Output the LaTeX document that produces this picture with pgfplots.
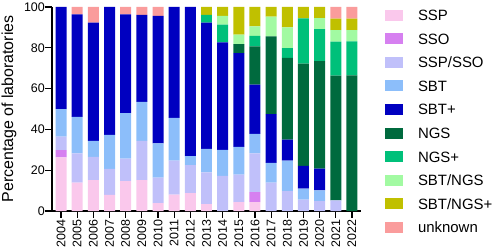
\documentclass[border=0pt]{standalone}
\usepackage{fontspec}
\setmainfont{Liberation Sans}
\usepackage{pgfplots}
\usepackage{pgfplotstable}
\pgfplotsset{compat=1.18}
\definecolor{cSSP}{RGB}{250,200,236}
\definecolor{cSSO}{RGB}{214,128,240}
\definecolor{cSSPSSO}{RGB}{192,192,250}
\definecolor{cSBT}{RGB}{140,190,250}
\definecolor{cSBTp}{RGB}{0,0,192}
\definecolor{cNGS}{RGB}{0,106,62}
\definecolor{cNGSp}{RGB}{0,192,122}
\definecolor{cSBTNGS}{RGB}{162,250,162}
\definecolor{cSBTNGSp}{RGB}{192,192,0}
\definecolor{cunk}{RGB}{250,156,156}
\pgfplotstableread{
year SSP SSO SSPSSO SBT SBTp NGS NGSp SBTNGS SBTNGSp unk
2004 26.3 3.5 6.7 13.4 50.1 0 0 0 0 0
2005 13.9 0 14.4 17.9 50.2 0 0 0 0 3.6
2006 15.1 0 11.4 7.9 57.9 0 0 0 0 7.7
2007 7.9 0 12.7 16.7 62.7 0 0 0 0 0
2008 14.6 0 11.1 22.3 48.4 0 0 0 0 3.6
2009 15.1 0 19.3 19.1 42.7 0 0 0 0 3.8
2010 3.9 0 12.5 16.7 62.6 0 0 0 0 4.3
2011 8.0 0 16.7 21.0 54.3 0 0 0 0 0
2012 8.8 0 13.7 4.4 73.1 0 0 0 0 0
2013 3.4 0 15.5 11.5 61.9 0 3.9 0 3.8 0
2014 0 0 17.2 12.8 52.7 0 8.6 4.4 4.3 0
2015 4.3 0 13.5 13.6 46.0 4.4 0 4.6 13.6 0
2016 4.4 4.9 19.0 9.5 24.1 18.8 5.1 4.7 9.5 0
2017 0 0 13.9 9.7 23.9 38.1 0 9.7 4.7 0
2018 0 0 9.7 15.0 10.3 40.0 4.9 10.1 10.0 0
2019 0 0 5.6 5.4 11.1 50.1 22.2 0 5.6 0
2020 0 0 4.9 5.2 10.7 52.7 15.7 5.4 5.4 0
2021 0 0 5.2 0 0 61.2 16.6 5.7 5.6 5.7
2022 0 0 0 0 0 66.5 16.6 5.6 5.6 5.7
}\data
\pgfplotsset{
  sq/.style={draw=none, fill=#1,
    legend image code/.code={\fill[#1] (0bp,-5.5bp) rectangle (18bp,5.5bp); \path (33bp,0bp);}},
}
\begin{document}
\begin{tikzpicture}
\begin{axis}[
  scale only axis, width=309bp, height=204bp,
  ybar stacked, bar width=0.68,
  xmin=-0.56, xmax=18.56, ymin=0, ymax=100,
  axis x line=bottom, axis y line=left,
  axis line style={line width=1.4bp, -},
  tick align=outside, major tick length=6.5bp,
  tick style={black, line width=1.2bp},
  xtick={0,...,18},
  xticklabels={2004,2005,2006,2007,2008,2009,2010,2011,2012,2013,2014,2015,2016,2017,2018,2019,2020,2021,2022},
  ytick={0,20,40,60,80,100},
  /pgf/number format/assume math mode=true,
  x tick label style={rotate=90, anchor=east, inner sep=2bp, font=\fontsize{12.5}{14}\selectfont},
  y tick label style={inner sep=0.5bp, font=\fontsize{12.5}{14}\selectfont},
  ylabel={Percentage of laboratories},
  every axis y label/.style={at={(rel axis cs:0,0.5)}, xshift=-43bp, rotate=90, anchor=center, font=\fontsize{16}{18}\selectfont},
  legend style={at={(rel axis cs:1,1)}, anchor=north west, xshift=24bp, yshift=-2.5bp,
    draw=none, fill=none, inner sep=0pt, outer sep=0pt, row sep=12.6bp, column sep=0pt,
    font=\fontsize{15}{17}\selectfont,
    nodes={inner sep=0pt, text height=11bp, text depth=0bp}},
  legend cell align=left,
]
\addplot[sq=cSSP] table[x expr=\coordindex, y=SSP] {\data};
\addlegendentry{SSP}
\addplot[sq=cSSO] table[x expr=\coordindex, y=SSO] {\data};
\addlegendentry{SSO}
\addplot[sq=cSSPSSO] table[x expr=\coordindex, y=SSPSSO] {\data};
\addlegendentry{SSP/SSO}
\addplot[sq=cSBT] table[x expr=\coordindex, y=SBT] {\data};
\addlegendentry{SBT}
\addplot[sq=cSBTp] table[x expr=\coordindex, y=SBTp] {\data};
\addlegendentry{SBT+}
\addplot[sq=cNGS] table[x expr=\coordindex, y=NGS] {\data};
\addlegendentry{NGS}
\addplot[sq=cNGSp] table[x expr=\coordindex, y=NGSp] {\data};
\addlegendentry{NGS+}
\addplot[sq=cSBTNGS] table[x expr=\coordindex, y=SBTNGS] {\data};
\addlegendentry{SBT/NGS}
\addplot[sq=cSBTNGSp] table[x expr=\coordindex, y=SBTNGSp] {\data};
\addlegendentry{SBT/NGS+}
\addplot[sq=cunk] table[x expr=\coordindex, y=unk] {\data};
\addlegendentry{unknown}
\coordinate (SW) at (rel axis cs:0,0);
\end{axis}
\pgfresetboundingbox
\path (SW) ++(-52bp,-41bp) rectangle ++(498bp,252bp);
\end{tikzpicture}
\end{document}
